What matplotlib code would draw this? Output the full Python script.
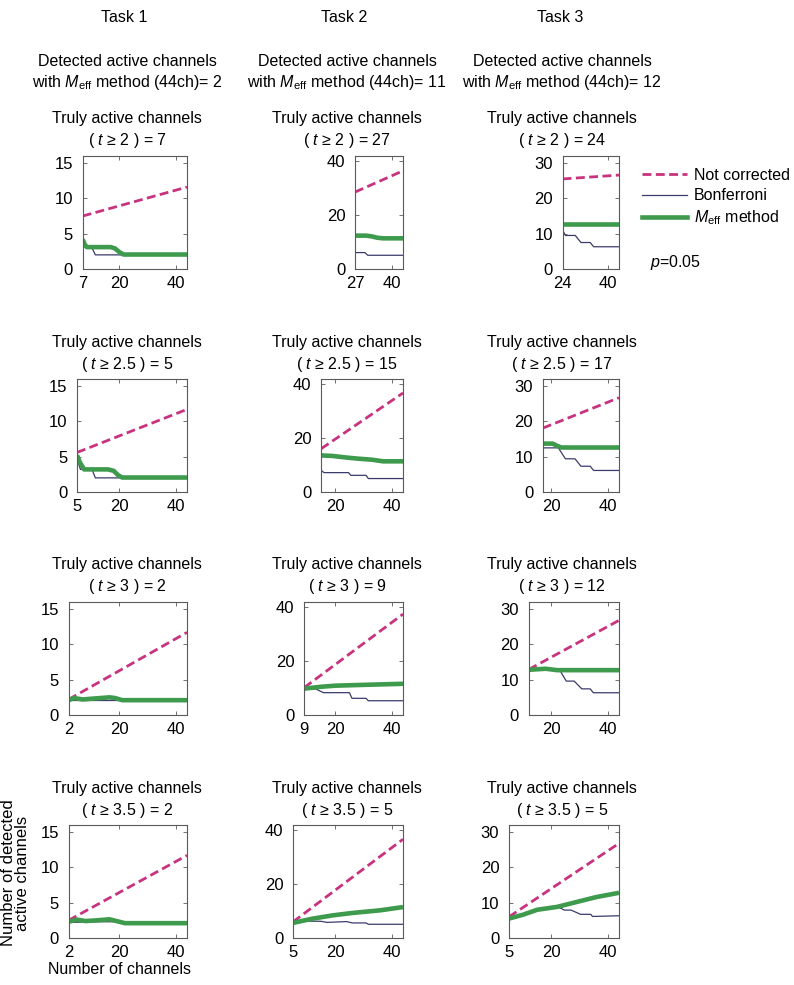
import matplotlib
matplotlib.use("Agg")
import matplotlib.pyplot as plt
from matplotlib.lines import Line2D

plt.rcParams['font.family'] = ['Liberation Sans', 'DejaVu Sans']
plt.rcParams['mathtext.fontset'] = 'custom'
plt.rcParams['mathtext.rm'] = 'Liberation Sans'
plt.rcParams['mathtext.it'] = 'Liberation Sans:italic'
plt.rcParams['mathtext.bf'] = 'Liberation Sans:bold'

# ---------------- data ----------------
tasks = ["Task 1", "Task 2", "Task 3"]
meff_44ch = [2, 11, 12]
thresholds = ["2", "2.5", "3", "3.5"]
truly_active = [[7, 27, 24], [5, 15, 17], [2, 9, 12], [2, 5, 5]]
n_max = 44

y_max = [16, 42, 32]
y_ticks = [[0, 5, 10, 15], [0, 20, 40], [0, 10, 20, 30]]
x_ticks = [[[7, 20, 40], [27, 40], [24, 40]],
           [[5, 20, 40], [20, 40], [20, 40]],
           [[2, 20, 40], [9, 20, 40], [20, 40]],
           [[2, 20, 40], [5, 20, 40], [5, 20, 40]]]

# Not corrected: value at first channel count and at 44 channels
unc_start = [[7.5, 28.6, 25.5], [5.6, 16.1, 18.1], [2.2, 10.2, 12.9], [2.5, 6.0, 6.0]]
unc_end = [[11.6, 36.5, 26.6], [11.7, 36.8, 26.7], [11.7, 37.5, 26.8], [11.7, 36.7, 26.8]]

# Bonferroni
bonf_x = [
    [[7, 8, 10.3, 11.5, 44], [27, 30.5, 31.5, 44], [24, 25, 28.5, 30.5, 33.8, 35, 44]],
    [[5, 6.2, 10.3, 11.5, 44], [15, 16, 24.7, 25.5, 30.9, 31.7, 44],
     [17, 22.5, 25, 28.4, 30.5, 33.8, 35, 44]],
    [[2, 44], [9, 13, 15.8, 25, 25.9, 30.9, 31.7, 44],
     [12, 23, 25.3, 28.1, 30.8, 33.8, 34.9, 44]],
    [[2, 12, 19, 21, 44], [5, 9, 15, 17, 24, 26, 30.9, 31.7, 44],
     [5, 10, 15, 22.5, 24.6, 27, 30.4, 34, 34.6, 44]],
]
bonf_y = [
    [[4.0, 3.0, 3.0, 2.0, 2.0], [6.1, 6.1, 5.1, 5.1], [11.0, 9.5, 9.5, 7.5, 7.5, 6.3, 6.3]],
    [[4.7, 3.2, 3.2, 2.0, 2.0], [8.0, 7.2, 7.2, 6.2, 6.2, 5.0, 5.0],
     [12.5, 12.5, 9.4, 9.4, 7.3, 7.3, 6.1, 6.1]],
    [[2.1, 2.1], [9.7, 9.7, 8.3, 8.3, 6.2, 6.2, 5.3, 5.3],
     [12.7, 12.7, 9.6, 9.6, 7.4, 7.4, 6.3, 6.3]],
    [[2.2, 2.3, 2.3, 2.1, 2.1], [5.6, 6.3, 6.2, 5.8, 6.1, 5.6, 5.6, 5.1, 5.1],
     [5.5, 6.6, 8.0, 8.8, 7.9, 7.9, 6.7, 6.7, 6.1, 6.3]],
]

# M_eff method
meff_x = [
    [[7, 7.7, 8.5, 17, 18.5, 20, 21.5, 44], [27, 31, 33, 35, 37, 44], [24, 44]],
    [[5, 6, 7.5, 16, 18, 19.5, 21, 44], [15, 19, 24, 28, 33, 37, 44], [17, 20.5, 22, 23.5, 44]],
    [[2, 4, 7, 10, 16.5, 18.5, 21, 44], [9, 15, 20, 30, 44], [12, 18, 22, 44]],
    [[2, 5, 8, 12, 16.5, 19, 22, 44], [5, 12, 19, 26, 36, 44], [5, 10, 15, 22, 29, 36, 44]],
]
meff_y = [
    [[4.2, 3.5, 3.1, 3.1, 2.9, 2.4, 2.05, 2.05], [12.4, 12.4, 12.1, 11.6, 11.4, 11.4], [12.8, 12.8]],
    [[5.2, 4.2, 3.2, 3.2, 3.0, 2.4, 2.05, 2.05], [13.6, 13.4, 12.8, 12.4, 12.0, 11.4, 11.4],
     [13.7, 13.7, 13.1, 12.6, 12.6]],
    [[2.1, 2.4, 2.2, 2.3, 2.5, 2.4, 2.1, 2.1], [9.8, 10.5, 10.9, 11.2, 11.6], [12.8, 13.1, 12.7, 12.7]],
    [[2.3, 2.6, 2.4, 2.5, 2.65, 2.4, 2.1, 2.1], [5.6, 7.2, 8.4, 9.3, 10.3, 11.5],
     [5.5, 6.6, 8.0, 8.8, 10.2, 11.6, 12.8]],
]

# ---------------- style ----------------
C_UNC = "#C8337F"
C_BONF = "#3B3B6B"
C_MEFF = "#3E9A4C"
C_AX = "#5A5A5A"
FS = 11.5

W, H = 794, 985
fig = plt.figure(figsize=(W / 100, H / 100), dpi=100)

px_per_ch = 2.82
right_px = [187, 403, 619]
bottom_px = [269, 492, 715, 938]
ax_h = 113
col_center = [127, 347, 562]
task_center = [124, 344, 560]

for c in range(3):
    fig.text(task_center[c] / W, 1 - 17 / H, tasks[c], ha='center', va='center', fontsize=FS)
    fig.text(col_center[c] / W, 1 - 61 / H, "Detected active channels",
             ha='center', va='center', fontsize=FS)
    fig.text(col_center[c] / W, 1 - 83 / H,
             r"with $M_{\mathrm{eff}}$ method (44ch)= " + str(meff_44ch[c]),
             ha='center', va='center', fontsize=FS)

axes = {}
for r in range(4):
    for c in range(3):
        s = truly_active[r][c]
        left = right_px[c] - (n_max - s) * px_per_ch
        ax = fig.add_axes([left / W, 1 - bottom_px[r] / H,
                           (right_px[c] - left) / W, ax_h / H])
        axes[(r, c)] = ax
        ax.plot([s, n_max], [unc_start[r][c], unc_end[r][c]], color=C_UNC, lw=2.0,
                ls=(0, (3.2, 1.6)), dash_capstyle='butt')
        ax.plot(bonf_x[r][c], bonf_y[r][c], color=C_BONF, lw=0.9)
        ax.plot(meff_x[r][c], meff_y[r][c], color=C_MEFF, lw=3.3,
                solid_capstyle='butt', solid_joinstyle='round')
        ax.set_xlim(s, n_max)
        ax.set_ylim(0, y_max[c])
        ax.set_xticks(x_ticks[r][c])
        ax.set_yticks(y_ticks[c])
        ax.tick_params(direction='in', top=True, right=True, length=3, width=0.6,
                       color=C_AX, labelsize=12)
        ax.tick_params(axis='x', pad=5)
        ax.tick_params(axis='y', pad=7)
        for sp in ax.spines.values():
            sp.set_color(C_AX)
            sp.set_linewidth(0.8)
        top_px = bottom_px[r] - ax_h
        fig.text(col_center[c] / W, 1 - (top_px - 37) / H, "Truly active channels",
                 ha='center', va='center', fontsize=FS)
        fig.text(col_center[c] / W, 1 - (top_px - 15) / H,
                 "( $t$ ≥ " + thresholds[r] + " ) = " + str(s),
                 ha='center', va='center', fontsize=FS)

# axis labels on bottom-left panel
ax = axes[(3, 0)]
ax.set_ylabel("Number of detected\nactive channels", fontsize=12, va='center',
              multialignment='center', linespacing=0.95)
ax.yaxis.set_label_coords((16 - 69) / 118, (938 - 873) / 113)
ax.set_xlabel("Number of channels", fontsize=FS, va='center')
ax.xaxis.set_label_coords((120 - 69) / 118, -(970 - 938) / 113)

# legend next to Task 3, first row
handles = [Line2D([], [], color=C_UNC, lw=2.0, ls=(0, (3.2, 1.6))),
           Line2D([], [], color=C_BONF, lw=0.9),
           Line2D([], [], color=C_MEFF, lw=3.3)]
labels = ["Not corrected", "Bonferroni", r"$M_{\mathrm{eff}}$ method"]
fig.legend(handles, labels, loc='upper left', bbox_to_anchor=(642 / W, 1 - 168 / H),
           frameon=False, fontsize=FS, handlelength=2.8, handletextpad=0.45,
           labelspacing=0.32, borderpad=0, borderaxespad=0)
fig.text(650 / W, 1 - 262 / H, r"$p$=0.05", ha='left', va='center', fontsize=FS)

fig.savefig("out.png", dpi=100)
